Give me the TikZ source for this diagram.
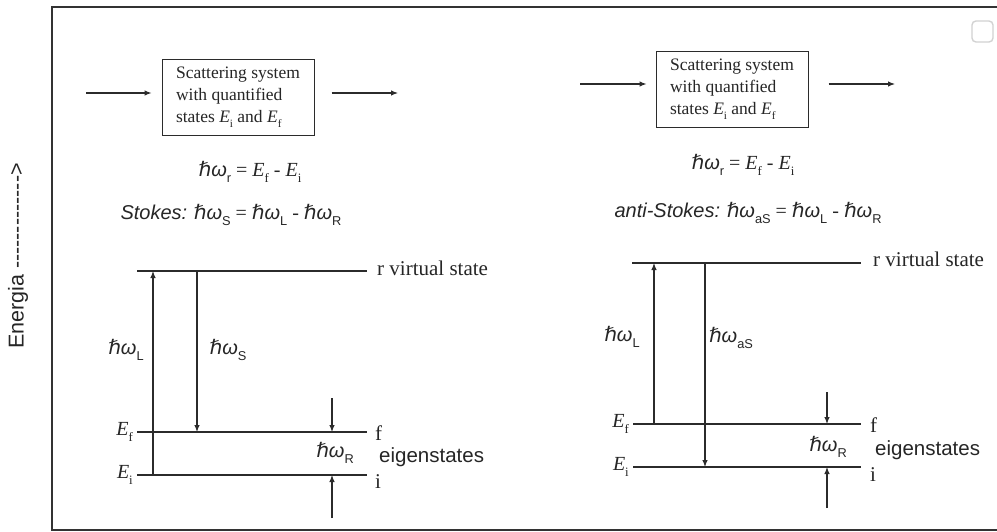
\documentclass[tikz,border=0pt]{standalone}
\usepackage{fontspec}
\setmainfont{Liberation Serif}
\newfontfamily\lsans{Liberation Sans}
\newfontfamily\dvsans{DejaVu Sans}
\usetikzlibrary{arrows.meta}
\definecolor{inkc}{HTML}{2B2B2B}
\definecolor{txtc}{HTML}{262626}
\definecolor{framec}{HTML}{333333}
\makeatletter
\newcommand\sbs[1]{\raisebox{-0.28em}{\fontsize{\strip@pt\dimexpr0.64\dimexpr\f@size pt\relax\relax}{1}\selectfont #1}}
\makeatother
\newcommand\hw[1]{{\dvsans ℏ}{\lsans\itshape ω}\sbs{\lsans #1}}
\newcommand\Ev[1]{\textit{E}\sbs{#1}}
\newcommand\hy{\hbox{-}}
\begin{document}
\begin{tikzpicture}[x=1pt,y=-1pt,
  lvl/.style={draw=inkc, line width=1.7pt},
  arr/.style={draw=inkc, line width=1.1pt, -{Latex[length=7pt,width=5.5pt]}},
  sysbox/.style={draw=inkc, line width=1pt, inner sep=0pt, minimum width=152pt, minimum height=76pt,
     align=left, text=txtc, font=\fontsize{17.5}{22}\selectfont},
  lbl/.style={inner sep=0pt, text=txtc},
  serl/.style={lbl, font=\fontsize{21}{22}\selectfont},
  sanl/.style={lbl, font=\lsans\fontsize{20.5}{22}\selectfont},
  frm/.style={lbl, font=\fontsize{20}{22}\selectfont},
]
\useasboundingbox (0,0) rectangle (997,532);
\fill[white] (0,0) rectangle (997,532);
% frame
\draw[draw=framec, line width=1.5pt] (999,7) -- (52,7) -- (52,530) -- (999,530);
\node[draw=gray!35, line width=1.4pt, rounded corners=4pt, minimum size=21pt, inner sep=0pt] (ui) at (982.5,31.5) {};
% energy axis label
\node[sanl, rotate=90, font=\lsans\fontsize{21.5}{22}\selectfont] (energia) at (18,256)
  {Energia \hy\hy\hy\hy\hy\hy\hy\hy\hy\hy\hy\hy\hy{>}};

% ================= left panel (Stokes) =================
\node[sysbox] (sys1) at (238,97.5) {Scattering system\\with quantified\\states \Ev{i} and \Ev{f}};
\coordinate (in1) at (86,93);
\coordinate (out1) at (398,93);
\draw[arr] (in1) -- ([xshift=-10pt]sys1.west |- in1);
\draw[arr] ([xshift=17pt]sys1.east |- out1) -- (out1);

\node[frm] (eq1) at (250,172) {\hw{r} = \Ev{f} - \Ev{i}};
\node[frm] (st1) at (231,215) {{\lsans\itshape Stokes:} \hw{S} = \hw{L} - \hw{R}};

\coordinate (r1a) at (137,271); \coordinate (r1b) at (367,271);
\coordinate (f1a) at (137,432); \coordinate (f1b) at (367,432);
\coordinate (i1a) at (137,475); \coordinate (i1b) at (367,475);
\draw[lvl] (r1a) -- (r1b);
\draw[lvl] (f1a) -- (f1b);
\draw[lvl] (i1a) -- (i1b);
\node[serl, anchor=west] (r1lab) at (377,268) {r virtual state};
\node[serl, anchor=west] (f1lab) at (375,433) {f};
\node[serl, anchor=west] (i1lab) at (375,482) {i};
\node[frm, anchor=east] (Ef1) at (133,432) {\Ev{f}};
\node[frm, anchor=east] (Ei1) at (133,475) {\Ev{i}};

\coordinate (L1s) at (153,475); \coordinate (L1e) at (153,271);
\coordinate (S1s) at (197,271); \coordinate (S1e) at (197,432);
\draw[arr] (L1s) -- (L1e);
\draw[arr] (S1s) -- (S1e);
\node[frm] (hL1) at (126,350) {\hw{L}};
\node[frm] (hS1) at (228,350) {\hw{S}};

\coordinate (R1a) at (332,398); \coordinate (R1b) at (332,432);
\coordinate (R1c) at (332,518); \coordinate (R1d) at (332,475);
\draw[arr] (R1a) -- (R1b);
\draw[arr] (R1c) -- (R1d);
\node[frm] (hR1) at (335,453) {\hw{R}};
\node[sanl, anchor=west] (eig1) at (379,457) {eigenstates};

% ================= right panel (anti-Stokes) =================
\node[sysbox] (sys2) at (732,89.5) {Scattering system\\with quantified\\states \Ev{i} and \Ev{f}};
\coordinate (in2) at (580,84);
\coordinate (out2) at (895,84);
\draw[arr] (in2) -- ([xshift=-9pt]sys2.west |- in2);
\draw[arr] ([xshift=20pt]sys2.east |- out2) -- (out2);

\node[frm] (eq2) at (743,165) {\hw{r} = \Ev{f} - \Ev{i}};
\node[frm] (st2) at (748,213) {{\lsans\itshape anti-Stokes:} \hw{aS} = \hw{L} - \hw{R}};

\coordinate (r2a) at (632,263); \coordinate (r2b) at (861,263);
\coordinate (f2a) at (633,424); \coordinate (f2b) at (861,424);
\coordinate (i2a) at (633,467); \coordinate (i2b) at (861,467);
\draw[lvl] (r2a) -- (r2b);
\draw[lvl] (f2a) -- (f2b);
\draw[lvl] (i2a) -- (i2b);
\node[serl, anchor=west] (r2lab) at (873,259) {r virtual state};
\node[serl, anchor=west] (f2lab) at (870,425) {f};
\node[serl, anchor=west] (i2lab) at (870,475) {i};
\node[frm, anchor=east] (Ef2) at (629,424) {\Ev{f}};
\node[frm, anchor=east] (Ei2) at (629,467) {\Ev{i}};

\coordinate (L2s) at (654,424); \coordinate (L2e) at (654,263);
\coordinate (A2s) at (705,263); \coordinate (A2e) at (705,467);
\draw[arr] (L2s) -- (L2e);
\draw[arr] (A2s) -- (A2e);
\node[frm] (hL2) at (622,337) {\hw{L}};
\node[frm] (hA2) at (731,338) {\hw{aS}};

\coordinate (R2a) at (827,392); \coordinate (R2b) at (827,424);
\coordinate (R2c) at (827,508); \coordinate (R2d) at (827,467);
\draw[arr] (R2a) -- (R2b);
\draw[arr] (R2c) -- (R2d);
\node[frm] (hR2) at (828,447) {\hw{R}};
\node[sanl, anchor=west] (eig2) at (875,450) {eigenstates};
\end{tikzpicture}
\end{document}
